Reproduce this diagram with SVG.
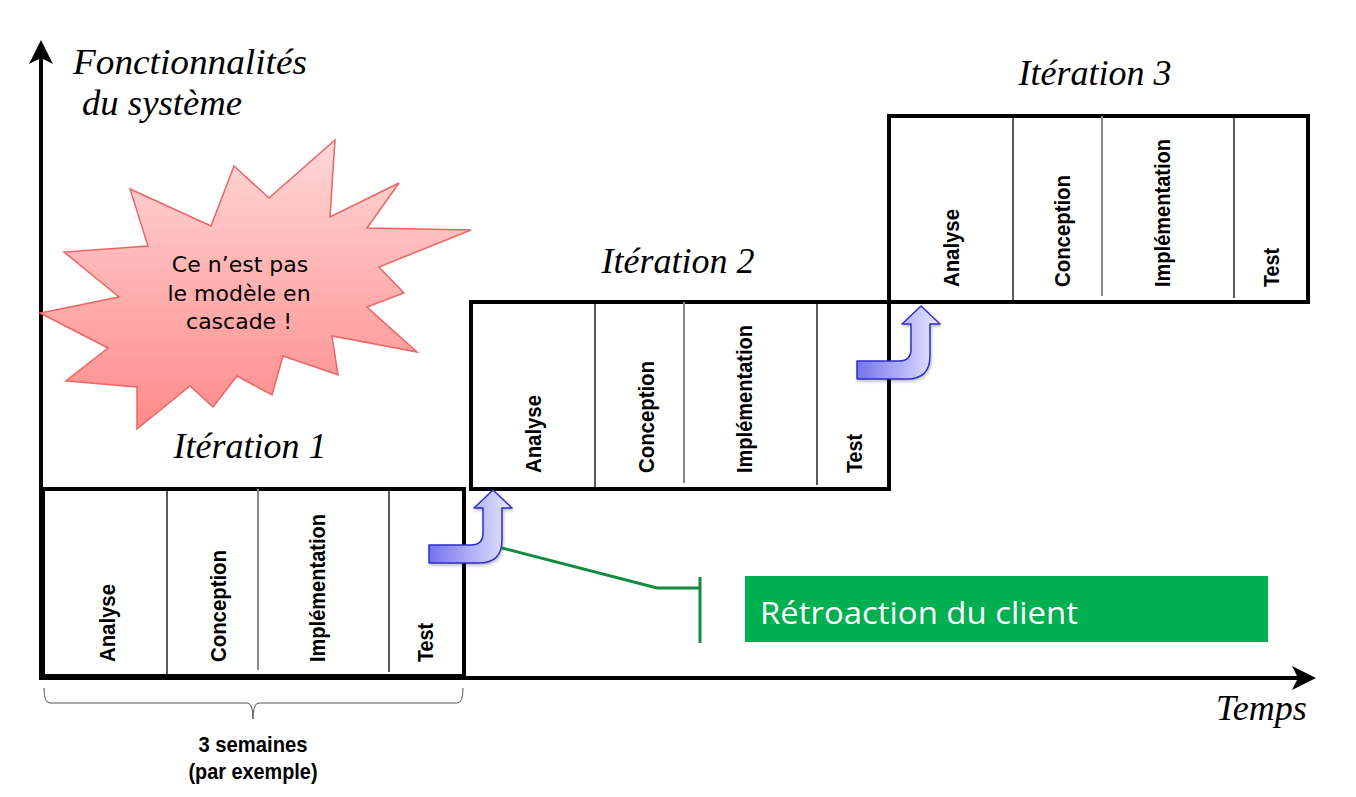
<svg xmlns="http://www.w3.org/2000/svg" width="1356" height="797" viewBox="0 0 1356 797">
<style>
.ph{font-family:"Liberation Sans",Arial,sans-serif;font-weight:bold;font-size:22px;fill:#000}
.ttl{font-family:"Liberation Serif","Times New Roman",serif;font-style:italic;font-size:36px;fill:#000}
.box{fill:none;stroke:#000;stroke-width:4}
.div{stroke:#000;stroke-width:1.3}
.divg{stroke:#888;stroke-width:2}
.axis{stroke:#000;stroke-width:4;fill:none}
</style>
<defs>
<linearGradient id="gStar" x1="0" y1="0" x2="0" y2="1">
<stop offset="0" stop-color="#FFD8D8"/>
<stop offset="1" stop-color="#FF8A8A"/>
</linearGradient>
<linearGradient id="gArrow" x1="0" y1="0" x2="1" y2="0">
<stop offset="0" stop-color="#7474EC"/>
<stop offset="1" stop-color="#E8E8FF"/>
</linearGradient>
<filter id="sh" x="-20%" y="-20%" width="140%" height="140%">
<feDropShadow dx="1" dy="2" stdDeviation="1.5" flood-color="#000" flood-opacity="0.25"/>
</filter>
<path id="uarrow" d="M0,0 L42,0 Q54,0 54,-12 L54,-37 L45,-37 L64,-55 L83,-37 L73,-37 L73,-5 Q73,18 50,18 L0,18 Z" fill="url(#gArrow)" stroke="#2E2ECC" stroke-width="1.5" stroke-linejoin="round"/>
</defs>

<g id="axes">
<line class="axis" x1="41" y1="680" x2="41" y2="56"/>
<path d="M41,40 L53,64 L41,58 L29,64 Z" fill="#000"/>
<line class="axis" x1="39" y1="678" x2="1300" y2="678"/>
<path d="M1316,678 L1292,690 L1298,678 L1292,666 Z" fill="#000"/>
<text class="ttl" x="73" y="74" font-size="33" textLength="234" lengthAdjust="spacingAndGlyphs">Fonctionnalités</text>
<text class="ttl" x="82" y="115" font-size="33" textLength="160" lengthAdjust="spacingAndGlyphs">du système</text>
<text class="ttl" x="1216" y="720" font-size="34">Temps</text>
</g>

<g id="iteration1">
<rect class="box" x="43" y="489" width="421" height="187"/>
<line class="div" x1="167" y1="489" x2="167" y2="674"/>
<line class="divg" x1="258" y1="489" x2="258" y2="670"/>
<line class="div" x1="389" y1="489" x2="389" y2="672"/>
<text class="ph" transform="translate(115,662) rotate(-90)" textLength="78" lengthAdjust="spacingAndGlyphs">Analyse</text>
<text class="ph" transform="translate(226,662) rotate(-90)" textLength="112" lengthAdjust="spacingAndGlyphs">Conception</text>
<text class="ph" transform="translate(325,662) rotate(-90)" textLength="148" lengthAdjust="spacingAndGlyphs">Implémentation</text>
<text class="ph" transform="translate(433,662) rotate(-90)" textLength="39" lengthAdjust="spacingAndGlyphs">Test</text>
<text class="ttl" x="250" y="458" text-anchor="middle">Itération 1</text>
</g>

<g id="iteration2">
<rect class="box" x="471" y="302" width="418" height="187"/>
<line class="div" x1="595" y1="302" x2="595" y2="487"/>
<line class="divg" x1="684" y1="302" x2="684" y2="483"/>
<line class="div" x1="817" y1="302" x2="817" y2="485"/>
<text class="ph" transform="translate(541,473) rotate(-90)" textLength="78" lengthAdjust="spacingAndGlyphs">Analyse</text>
<text class="ph" transform="translate(654,473) rotate(-90)" textLength="112" lengthAdjust="spacingAndGlyphs">Conception</text>
<text class="ph" transform="translate(752,473) rotate(-90)" textLength="148" lengthAdjust="spacingAndGlyphs">Implémentation</text>
<text class="ph" transform="translate(862,473) rotate(-90)" textLength="39" lengthAdjust="spacingAndGlyphs">Test</text>
<text class="ttl" x="678" y="273" text-anchor="middle">Itération 2</text>
</g>

<g id="iteration3">
<rect class="box" x="889" y="116" width="419" height="186"/>
<line class="div" x1="1013" y1="116" x2="1013" y2="300"/>
<line class="divg" x1="1102" y1="116" x2="1102" y2="296"/>
<line class="div" x1="1234" y1="116" x2="1234" y2="298"/>
<text class="ph" transform="translate(959,287) rotate(-90)" textLength="78" lengthAdjust="spacingAndGlyphs">Analyse</text>
<text class="ph" transform="translate(1070,287) rotate(-90)" textLength="112" lengthAdjust="spacingAndGlyphs">Conception</text>
<text class="ph" transform="translate(1170,287) rotate(-90)" textLength="148" lengthAdjust="spacingAndGlyphs">Implémentation</text>
<text class="ph" transform="translate(1279,287) rotate(-90)" textLength="39" lengthAdjust="spacingAndGlyphs">Test</text>
<text class="ttl" x="1095" y="85" text-anchor="middle">Itération 3</text>
</g>

<g id="starburst">
<polygon points="335,140 330,217 399,183 367,228 471,230 379,267 404,293 367,307 417,352 332,336 338,375 283,356 272,395 237,376 213,407 190,386 137,429 137,387 66,381 108,348 40,313 119,297 64,252 148,246 130,189 211,226 234,166 269,198" fill="url(#gStar)" stroke="#EC6464" stroke-width="1.5" stroke-linejoin="miter"/>
<g font-family="'DejaVu Sans',Verdana,sans-serif" font-size="22" text-anchor="middle" fill="#000">
<text x="240" y="272">Ce n’est pas</text>
<text x="239" y="301">le modèle en</text>
<text x="239" y="329">cascade !</text>
</g>
</g>

<g id="connectors">
<use href="#uarrow" transform="translate(429,545)" filter="url(#sh)"/>
<use href="#uarrow" transform="translate(857,361)" filter="url(#sh)"/>
<polyline points="502,548 657,588 700,588" fill="none" stroke="#138A3E" stroke-width="3"/>
<line x1="700" y1="577" x2="700" y2="643" stroke="#138A3E" stroke-width="3"/>
</g>

<g id="feedback">
<rect x="745" y="576" width="523" height="66" fill="#00B050"/>
<text x="760" y="624" font-family="'Open Sans','Noto Sans',sans-serif" font-size="31" fill="#fff" textLength="318" lengthAdjust="spacingAndGlyphs">Rétroaction du client</text>
</g>

<g id="duration">
<path d="M44,688 Q44,703 50,703 L247,703 Q253,703 253,719 Q253,703 259,703 L457,703 Q463,703 463,688" fill="none" stroke="#555" stroke-width="1"/>
<text class="ph" x="253" y="752" text-anchor="middle" textLength="109" lengthAdjust="spacingAndGlyphs">3 semaines</text>
<text class="ph" x="253" y="779" text-anchor="middle" textLength="129" lengthAdjust="spacingAndGlyphs">(par exemple)</text>
</g>
</svg>
